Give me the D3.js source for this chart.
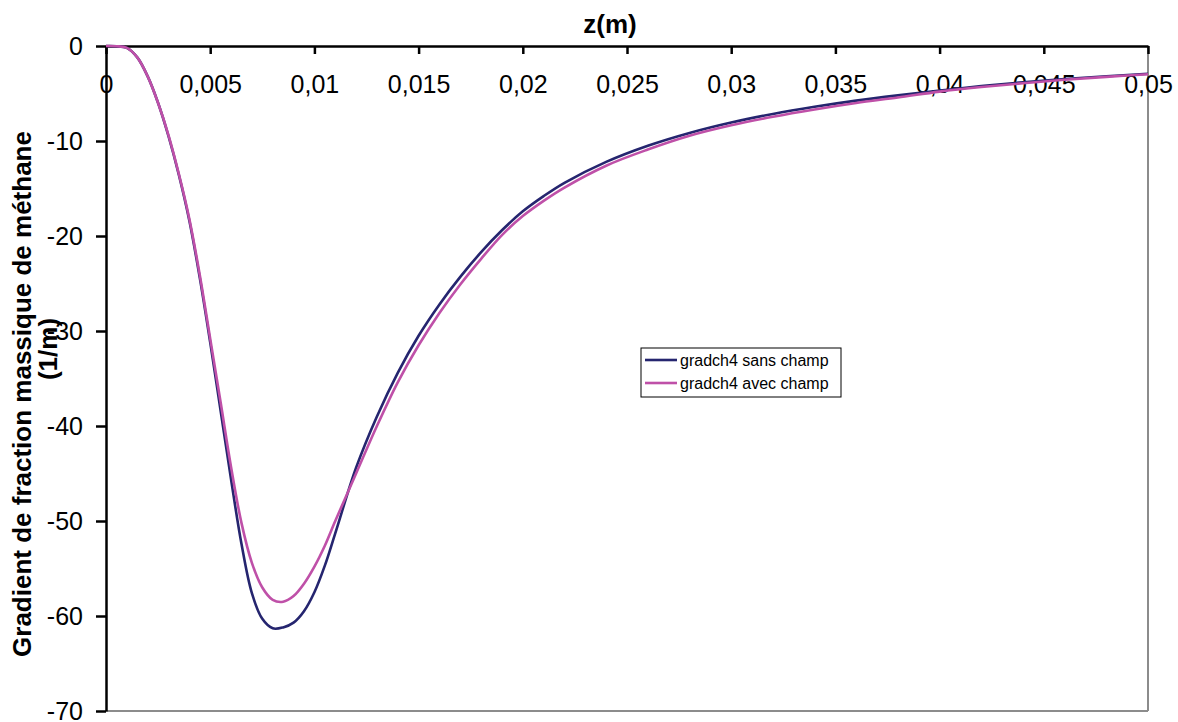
<!DOCTYPE html>
<html><head><meta charset="utf-8">
<script src="https://cdn.jsdelivr.net/npm/d3@7"></script>
<style>
html,body{margin:0;padding:0;background:#fff;}
svg{display:block;font-family:"Liberation Sans",Arial,sans-serif;}
</style></head>
<body>
<svg id="chart" width="1178" height="722"></svg>
<script>
// z in metres
const zValues = [0,0.0005,0.001,0.0015,0.002,0.0025,0.003,0.0035,0.004,0.0045,0.005,0.0055,0.006,0.0065,0.007,0.0075,0.008,0.0085,0.009,0.0095,0.010,0.0105,0.011,0.012,0.013,0.014,0.015,0.016,0.017,0.018,0.019,0.020,0.021,0.022,0.024,0.026,0.028,0.030,0.032,0.034,0.036,0.038,0.040,0.042,0.044,0.046,0.048,0.050];
const sansChamp = [0,-0.02,-0.2,-1.2,-3.2,-6.0,-9.5,-13.6,-18.4,-24.4,-31.2,-38.4,-45.6,-52.4,-57.6,-60.3,-61.3,-61.2,-60.7,-59.5,-57.5,-54.7,-51.3,-44.4,-39.0,-34.4,-30.5,-27.2,-24.3,-21.7,-19.4,-17.4,-15.8,-14.4,-12.2,-10.5,-9.15,-8.05,-7.15,-6.4,-5.75,-5.2,-4.7,-4.22,-3.82,-3.48,-3.18,-2.92];
const avecChamp = [0,-0.02,-0.2,-1.2,-3.2,-6.0,-9.4,-13.5,-18.2,-24.1,-30.8,-37.5,-44.3,-50.2,-54.4,-57.0,-58.3,-58.5,-57.9,-56.6,-54.8,-52.6,-50.0,-45.0,-40.0,-35.4,-31.5,-28.1,-25.1,-22.4,-19.9,-17.9,-16.3,-14.9,-12.6,-10.9,-9.45,-8.35,-7.45,-6.68,-6.0,-5.42,-4.8,-4.32,-3.92,-3.56,-3.25,-2.97];
const seriesNames = ["gradch4 sans champ","gradch4 avec champ"];
const seriesColors = ["#25256f","#bf50a8"];
const xTicks = [0,0.005,0.01,0.015,0.02,0.025,0.03,0.035,0.04,0.045,0.05];
const xTickLabels = ["0","0,005","0,01","0,015","0,02","0,025","0,03","0,035","0,04","0,045","0,05"];
const yTicks = [0,-10,-20,-30,-40,-50,-60,-70];
const xTitle = "z(m)";
const yTitleLines = ["Gradient de fraction massique de méthane","(1/m)"];

const svg = d3.select("#chart");
const L = 106, R = 1148, T = 46, B = 711;
const x = d3.scaleLinear().domain([0,0.05]).range([L,R]);
const y = d3.scaleLinear().domain([-70,0]).range([B,T]);

// gray frame right & bottom
svg.append("line").attr("x1",R).attr("x2",R).attr("y1",T).attr("y2",B).attr("stroke","#8c8c8c").attr("stroke-width",2);
svg.append("line").attr("x1",L).attr("x2",R).attr("y1",B).attr("y2",B).attr("stroke","#8c8c8c").attr("stroke-width",2);

// y axis
const yAxis = svg.append("g").attr("transform",`translate(${L},0)`)
  .call(d3.axisLeft(y).tickValues(yTicks).tickSize(10).tickSizeOuter(0));
yAxis.select(".domain").attr("stroke","#000").attr("stroke-width",2.5);
yAxis.selectAll(".tick line").attr("stroke","#000").attr("stroke-width",2.5);
yAxis.selectAll(".tick text").attr("x",-23).attr("font-size",25).attr("fill","#000")
  .attr("font-family","'Liberation Sans',Arial,sans-serif").text(d=>String(d));

// x axis at top (y=0), ticks pointing down, labels below
const xAxis = svg.append("g").attr("transform",`translate(0,${T})`)
  .call(d3.axisBottom(x).tickValues(xTicks).tickFormat((d,i)=>xTickLabels[i]).tickSize(8).tickSizeOuter(0));
xAxis.select(".domain").attr("stroke","#000").attr("stroke-width",2.5);
xAxis.selectAll(".tick line").attr("stroke","#000").attr("stroke-width",2.5);
xAxis.selectAll(".tick text").attr("font-size",25).attr("fill","#000")
  .attr("font-family","'Liberation Sans',Arial,sans-serif").attr("dy",null).attr("y",47);

// titles
svg.append("text").attr("x",610).attr("y",33).attr("text-anchor","middle")
  .attr("font-size",26).attr("font-weight","bold").text(xTitle);
svg.append("text").attr("transform","translate(31,394) rotate(-90)").attr("text-anchor","middle")
  .attr("font-size",26).attr("font-weight","bold").text(yTitleLines[0]);
svg.append("text").attr("transform","translate(57,349) rotate(-90)").attr("text-anchor","middle")
  .attr("font-size",26).attr("font-weight","bold").text(yTitleLines[1]);

// lines
const line = d3.line().x(d=>x(d[0])).y(d=>y(d[1])).curve(d3.curveCatmullRom.alpha(0.5));
[sansChamp, avecChamp].forEach((vals,i)=>{
  svg.append("path").datum(zValues.map((z,j)=>[z,vals[j]]))
    .attr("d",line).attr("fill","none").attr("stroke",seriesColors[i]).attr("stroke-width",2.6);
});

// legend
const lg = svg.append("g");
lg.append("rect").attr("x",641).attr("y",348).attr("width",200).attr("height",49)
  .attr("fill","#fff").attr("stroke","#000").attr("stroke-width",1);
seriesNames.forEach((n,i)=>{
  const yy = 360 + i*23;
  lg.append("line").attr("x1",645).attr("x2",677).attr("y1",yy).attr("y2",yy)
    .attr("stroke",seriesColors[i]).attr("stroke-width",2.6);
  lg.append("text").attr("x",680).attr("y",yy).attr("dy","0.35em").attr("font-size",16).text(n);
});
</script>
</body></html>
